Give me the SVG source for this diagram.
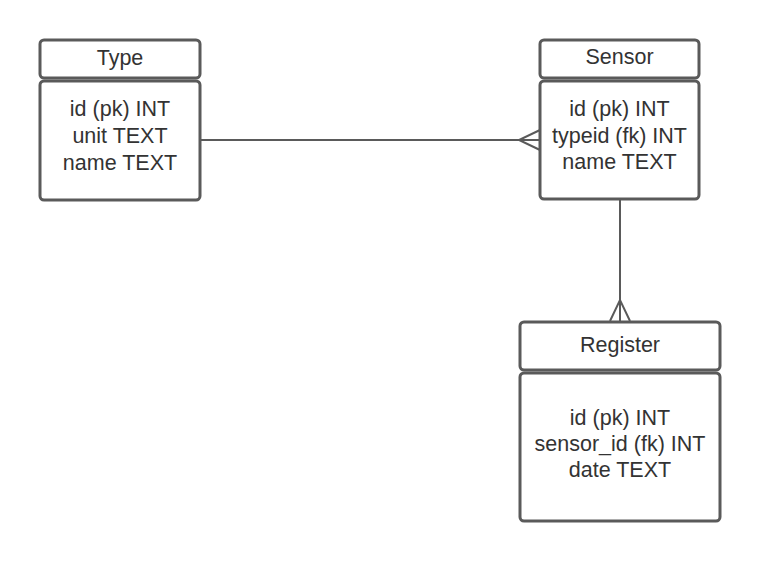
<svg xmlns="http://www.w3.org/2000/svg" width="760" height="561" viewBox="0 0 760 561">
<style>
.box{fill:#fff;stroke:#5a5a5a;stroke-width:3}
.t{font-family:"Liberation Sans",Arial,sans-serif;font-size:21.5px;fill:#333;text-anchor:middle}
.c{fill:none;stroke:#5a5a5a;stroke-width:2}
</style>
<rect width="760" height="561" fill="#fff"/>
<g id="connectors">
<path class="c" d="M200 140H540"/>
<path class="c" d="M540 130L519 140L540 150M519 140H540"/>
<path class="c" d="M620 200V321"/>
<path class="c" d="M610 321L620 300L630 321"/>
</g>
<g id="type">
<rect class="box" x="40" y="40" width="160" height="38" rx="4"/>
<rect class="box" x="40" y="81" width="160" height="119" rx="4"/>
<text class="t" x="120" y="65">Type</text>
<text class="t" x="120" y="116">id (pk) INT</text>
<text class="t" x="120" y="143">unit TEXT</text>
<text class="t" x="120" y="170">name TEXT</text>
</g>
<g id="sensor">
<rect class="box" x="540" y="40" width="159" height="38" rx="4"/>
<rect class="box" x="540" y="81" width="159" height="118" rx="4"/>
<text class="t" x="619.5" y="64">Sensor</text>
<text class="t" x="619.5" y="116">id (pk) INT</text>
<text class="t" x="619.5" y="143">typeid (fk) INT</text>
<text class="t" x="619.5" y="169">name TEXT</text>
</g>
<g id="register">
<rect class="box" x="520" y="322" width="200" height="48" rx="4"/>
<rect class="box" x="520" y="373" width="200" height="148" rx="4"/>
<text class="t" x="620" y="352">Register</text>
<text class="t" x="620" y="425">id (pk) INT</text>
<text class="t" x="620" y="451">sensor_id (fk) INT</text>
<text class="t" x="620" y="477">date TEXT</text>
</g>
</svg>
